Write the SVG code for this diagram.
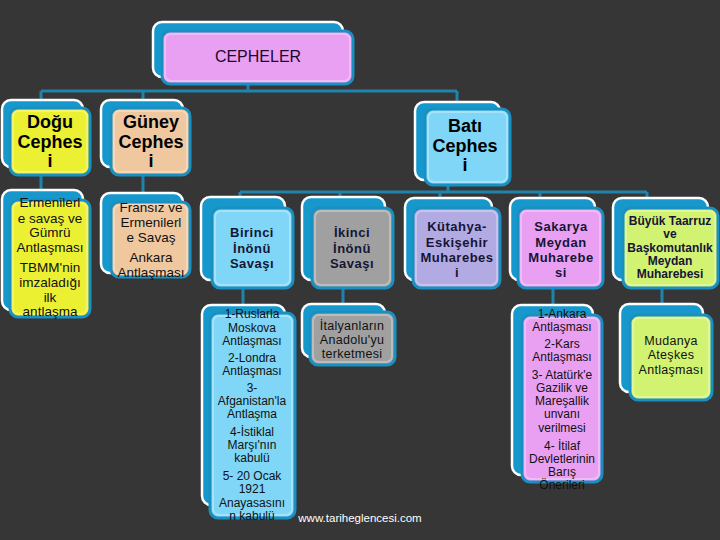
<svg xmlns="http://www.w3.org/2000/svg" width="720" height="540" viewBox="0 0 720 540">
<style>
.bg{fill:#363636}
.back{fill:#1798cc;stroke:#ffffff;stroke-width:2.5}
.front{stroke:#1a8fc2;stroke-width:3}
.hl{fill:none;stroke:#ffffff;stroke-opacity:0.3;stroke-width:2}
.conn{fill:none;stroke:#1f84ac;stroke-width:3}
text{font-family:"Liberation Sans",Arial,sans-serif;text-anchor:middle}
.t0{font-size:16px;fill:#1a0a2a}
.t1{font-size:18px;font-weight:bold;fill:#000}
.t2{font-size:13px;font-weight:bold;fill:#151535;letter-spacing:0.5px}
.t2s{font-size:12px;font-weight:bold;fill:#151535}
.t3{font-size:13.5px;fill:#111}
.t3s{font-size:12px;fill:#111}
.t3m{font-size:12.5px;fill:#111;letter-spacing:0.3px}
.wm{font-size:11.5px;fill:#fff}
</style>
<rect class="bg" x="0" y="0" width="720" height="540"/>
<g id="connectors">
<path class="conn" d="M248,84V91M41,91H457M41,91V100M143,91V100M457,91V102"/>
<path class="conn" d="M41,175V190M143,175V193"/>
<path class="conn" d="M448,185V192M240,192H647M240,192V198M340,192V198M440,192V198M540,192V198M647,192V198"/>
<path class="conn" d="M243,288V305M343,288V304M553,288V305M662,288V304"/>
</g>
<g id="cepheler">
<rect class="back" x="153" y="22" width="190" height="55" rx="9"/>
<rect class="front" x="162" y="31" width="191" height="53" rx="8" fill="#e9a0f3"/>
<rect class="hl" x="165" y="34" width="185" height="47" rx="6"/>
<text class="t0" x="258" y="62">CEPHELER</text>
</g>
<g id="dogu">
<rect class="back" x="2" y="100" width="81" height="67" rx="9"/>
<rect class="front" x="10" y="108" width="80" height="67" rx="8" fill="#ecf032"/>
<rect class="hl" x="13" y="111" width="74" height="61" rx="6"/>
<text class="t1" x="50" y="128">Doğu</text>
<text class="t1" x="50" y="148">Cephes</text>
<text class="t1" x="50" y="167">i</text>
</g>
<g id="guney">
<rect class="back" x="101" y="100" width="82" height="67" rx="9"/>
<rect class="front" x="111" y="108" width="79" height="67" rx="8" fill="#f0c8a0"/>
<rect class="hl" x="114" y="111" width="73" height="61" rx="6"/>
<text class="t1" x="151" y="128">Güney</text>
<text class="t1" x="151" y="148">Cephes</text>
<text class="t1" x="151" y="167">i</text>
</g>
<g id="bati">
<rect class="back" x="415" y="102" width="85" height="78" rx="9"/>
<rect class="front" x="425" y="109" width="85" height="76" rx="8" fill="#80d6f6"/>
<rect class="hl" x="428" y="112" width="79" height="70" rx="6"/>
<text class="t1" x="465" y="132">Batı</text>
<text class="t1" x="465" y="152">Cephes</text>
<text class="t1" x="465" y="171">i</text>
</g>
<g id="dogu-detay">
<rect class="back" x="2" y="190" width="81" height="120" rx="9"/>
<rect class="front" x="10" y="200" width="80" height="117" rx="8" fill="#ecf032"/>
<rect class="hl" x="13" y="203" width="74" height="111" rx="6"/>
<text class="t3" x="50" y="207">Ermenilerl</text>
<text class="t3" x="50" y="223">e savaş ve</text>
<text class="t3" x="50" y="237">Gümrü</text>
<text class="t3" x="50" y="252">Antlaşması</text>
<text class="t3" x="50" y="272">TBMM'nin</text>
<text class="t3" x="50" y="287">imzaladığı</text>
<text class="t3" x="50" y="302">ilk</text>
<text class="t3" x="50" y="316">antlaşma</text>
</g>
<g id="guney-detay">
<rect class="back" x="101" y="193" width="82" height="80" rx="9"/>
<rect class="front" x="111" y="202" width="79" height="75" rx="8" fill="#f0c8a0"/>
<rect class="hl" x="114" y="205" width="73" height="69" rx="6"/>
<text class="t3" x="151" y="212">Fransız ve</text>
<text class="t3" x="151" y="227">Ermenilerl</text>
<text class="t3" x="151" y="242">e Savaş</text>
<text class="t3" x="151" y="262">Ankara</text>
<text class="t3" x="151" y="277">Antlaşması</text>
</g>
<g id="birinci-inonu">
<rect class="back" x="201" y="197" width="84" height="83" rx="9"/>
<rect class="front" x="212" y="208" width="81" height="80" rx="8" fill="#80d6f6"/>
<rect class="hl" x="215" y="211" width="75" height="74" rx="6"/>
<text class="t2" x="252" y="237">Birinci</text>
<text class="t2" x="252" y="253">İnönü</text>
<text class="t2" x="252" y="268">Savaşı</text>
</g>
<g id="ikinci-inonu">
<rect class="back" x="302" y="197" width="83" height="83" rx="9"/>
<rect class="front" x="312" y="208" width="81" height="80" rx="8" fill="#a0a0a0"/>
<rect class="hl" x="315" y="211" width="75" height="74" rx="6"/>
<text class="t2" x="352" y="237">İkinci</text>
<text class="t2" x="352" y="253">İnönü</text>
<text class="t2" x="352" y="268">Savaşı</text>
</g>
<g id="kutahya">
<rect class="back" x="405" y="198" width="87" height="82" rx="9"/>
<rect class="front" x="413" y="208" width="87" height="80" rx="8" fill="#b2aae2"/>
<rect class="hl" x="416" y="211" width="81" height="74" rx="6"/>
<text class="t2" x="457" y="231">Kütahya-</text>
<text class="t2" x="457" y="247">Eskişehir</text>
<text class="t2" x="457" y="262">Muharebes</text>
<text class="t2" x="457" y="277">i</text>
</g>
<g id="sakarya">
<rect class="back" x="510" y="198" width="85" height="82" rx="9"/>
<rect class="front" x="518" y="208" width="85" height="80" rx="8" fill="#e9a0f3"/>
<rect class="hl" x="521" y="211" width="79" height="74" rx="6"/>
<text class="t2" x="561" y="231">Sakarya</text>
<text class="t2" x="561" y="247">Meydan</text>
<text class="t2" x="561" y="262">Muharebe</text>
<text class="t2" x="561" y="277">si</text>
</g>
<g id="buyuk-taarruz">
<rect class="back" x="613" y="198" width="95" height="82" rx="9"/>
<rect class="front" x="623" y="208" width="95" height="80" rx="8" fill="#d2f272"/>
<rect class="hl" x="626" y="211" width="89" height="74" rx="6"/>
<text class="t2s" x="670" y="225">Büyük Taarruz</text>
<text class="t2s" x="670" y="238">ve</text>
<text class="t2s" x="670" y="252">Başkomutanlık</text>
<text class="t2s" x="670" y="265">Meydan</text>
<text class="t2s" x="670" y="278">Muharebesi</text>
</g>
<g id="birinci-detay">
<rect class="back" x="202" y="305" width="83" height="200" rx="9"/>
<rect class="front" x="210" y="313" width="85" height="205" rx="8" fill="#80d6f6"/>
<rect class="hl" x="213" y="316" width="79" height="199" rx="6"/>
<text class="t3s" x="252" y="318">1-Ruslarla</text>
<text class="t3s" x="252" y="332">Moskova</text>
<text class="t3s" x="252" y="345">Antlaşması</text>
<text class="t3s" x="252" y="362">2-Londra</text>
<text class="t3s" x="252" y="375">Antlaşması</text>
<text class="t3s" x="252" y="392">3-</text>
<text class="t3s" x="252" y="405">Afganistan'la</text>
<text class="t3s" x="252" y="418">Antlaşma</text>
<text class="t3s" x="252" y="436">4-İstiklal</text>
<text class="t3s" x="252" y="449">Marşı'nın</text>
<text class="t3s" x="252" y="462">kabulü</text>
<text class="t3s" x="252" y="480">5- 20 Ocak</text>
<text class="t3s" x="252" y="493">1921</text>
<text class="t3s" x="252" y="507">Anayasasını</text>
<text class="t3s" x="252" y="520">n kabulü</text>
</g>
<g id="ikinci-detay">
<rect class="back" x="302" y="304" width="83" height="53" rx="9"/>
<rect class="front" x="310" y="312" width="85" height="53" rx="8" fill="#a0a0a0"/>
<rect class="hl" x="313" y="315" width="79" height="47" rx="6"/>
<text class="t3m" x="352" y="330">İtalyanların</text>
<text class="t3m" x="352" y="344">Anadolu'yu</text>
<text class="t3m" x="352" y="358">terketmesi</text>
</g>
<g id="sakarya-detay">
<rect class="back" x="512" y="305" width="81" height="170" rx="9"/>
<rect class="front" x="522" y="315" width="80" height="167" rx="8" fill="#e9a0f3"/>
<rect class="hl" x="525" y="318" width="74" height="161" rx="6"/>
<text class="t3s" x="562" y="318">1-Ankara</text>
<text class="t3s" x="562" y="331">Antlaşması</text>
<text class="t3s" x="562" y="348">2-Kars</text>
<text class="t3s" x="562" y="361">Antlaşması</text>
<text class="t3s" x="562" y="379">3- Atatürk'e</text>
<text class="t3s" x="562" y="392">Gazilik ve</text>
<text class="t3s" x="562" y="405">Mareşallik</text>
<text class="t3s" x="562" y="418">unvanı</text>
<text class="t3s" x="562" y="432">verilmesi</text>
<text class="t3s" x="562" y="450">4- İtilaf</text>
<text class="t3s" x="562" y="463">Devletlerinin</text>
<text class="t3s" x="562" y="476">Barış</text>
<text class="t3s" x="562" y="489">Önerileri</text>
</g>
<g id="buyuk-detay">
<rect class="back" x="620" y="304" width="83" height="88" rx="9"/>
<rect class="front" x="630" y="315" width="82" height="85" rx="8" fill="#d2f272"/>
<rect class="hl" x="633" y="318" width="76" height="79" rx="6"/>
<text class="t3m" x="671" y="345">Mudanya</text>
<text class="t3m" x="671" y="359">Ateşkes</text>
<text class="t3m" x="671" y="374">Antlaşması</text>
</g>
<text class="wm" x="360" y="522">www.tariheglencesi.com</text>
</svg>
